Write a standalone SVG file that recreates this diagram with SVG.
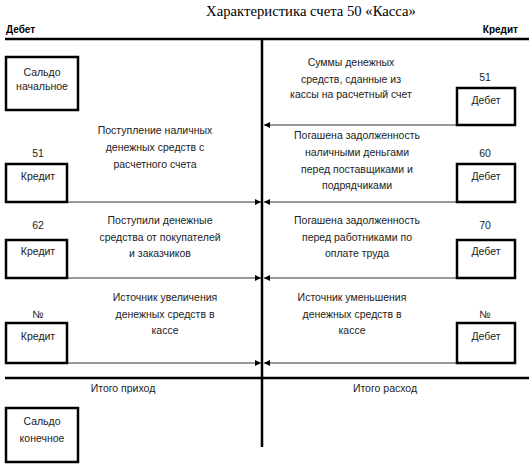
<svg xmlns="http://www.w3.org/2000/svg" width="531" height="467" viewBox="0 0 531 467">
<defs>
<marker id="ah" viewBox="0 0 10 10" refX="10" refY="5" markerWidth="6" markerHeight="6" markerUnits="userSpaceOnUse" orient="auto">
<path d="M0,0 L10,5 L0,10 z" fill="#000"/>
</marker>
<style>
text{font-family:"Liberation Sans",Arial,sans-serif;font-size:10.5px;fill:#222;text-anchor:middle}
.title{font-family:"Liberation Serif","Times New Roman",serif;font-size:14.7px;fill:#000}
.hd{font-weight:bold;font-size:10px;fill:#000}
.box{fill:#fff;stroke:#000;stroke-width:2.5}
.main{stroke:#000;stroke-width:2.5;fill:none}
.conn{stroke:#333;stroke-width:1;fill:none;marker-end:url(#ah)}
</style>
</defs>
<rect width="531" height="467" fill="#fff"/>
<text class="title" x="311" y="16">Характеристика счета 50 «Касса»</text>
<text class="hd" x="6" y="33" style="text-anchor:start">Дебет</text>
<text class="hd" x="518" y="33" style="text-anchor:end">Кредит</text>

<g id="axes">
<line class="main" x1="5" y1="39" x2="529" y2="39"/>
<line class="main" x1="262" y1="39" x2="262" y2="447"/>
<line class="main" x1="5" y1="378" x2="529" y2="378"/>
</g>

<g id="connectors">
<line class="conn" x1="456" y1="125" x2="264" y2="125"/>
<line class="conn" x1="67" y1="202" x2="261" y2="202"/>
<line class="conn" x1="456" y1="202" x2="264" y2="202"/>
<line class="conn" x1="67" y1="278" x2="261" y2="278"/>
<line class="conn" x1="456" y1="278" x2="264" y2="278"/>
<line class="conn" x1="67" y1="363" x2="261" y2="363"/>
<line class="conn" x1="456" y1="363" x2="264" y2="363"/>
</g>

<g id="saldo-start">
<rect class="box" x="6" y="57" width="72" height="53"/>
<text x="42" y="76">Сальдо</text>
<text x="42" y="90">начальное</text>
</g>

<g id="desc-r1">
<text x="351" y="66">Суммы денежных</text>
<text x="351" y="83">средств, сданные из</text>
<text x="351" y="98">кассы на расчетный счет</text>
</g>
<g id="debet-51">
<text x="485" y="81">51</text>
<rect class="box" x="457" y="88" width="58" height="37"/>
<text x="486" y="104">Дебет</text>
</g>

<g id="desc-l1">
<text x="155" y="134">Поступление наличных</text>
<text x="155" y="151">денежных средств с</text>
<text x="155" y="168">расчетного счета</text>
</g>
<g id="kredit-51">
<text x="38" y="157">51</text>
<rect class="box" x="6" y="164" width="61" height="38"/>
<text x="38" y="180">Кредит</text>
</g>

<g id="desc-r2">
<text x="357" y="139">Погашена задолженность</text>
<text x="357" y="156">наличными деньгами</text>
<text x="357" y="173">перед поставщиками и</text>
<text x="357" y="189">подрядчиками</text>
</g>
<g id="debet-60">
<text x="485" y="157">60</text>
<rect class="box" x="457" y="164" width="58" height="38"/>
<text x="486" y="180">Дебет</text>
</g>

<g id="desc-l2">
<text x="160" y="224">Поступили денежные</text>
<text x="160" y="241">средства от покупателей</text>
<text x="160" y="257">и заказчиков</text>
</g>
<g id="kredit-62">
<text x="38" y="229">62</text>
<rect class="box" x="6" y="240" width="61" height="38"/>
<text x="38" y="255">Кредит</text>
</g>

<g id="desc-r3">
<text x="357" y="224">Погашена задолженность</text>
<text x="357" y="241">перед работниками по</text>
<text x="357" y="257">оплате труда</text>
</g>
<g id="debet-70">
<text x="485" y="229">70</text>
<rect class="box" x="457" y="240" width="58" height="38"/>
<text x="486" y="255">Дебет</text>
</g>

<g id="desc-l3">
<text x="165" y="301">Источник увеличения</text>
<text x="165" y="318">денежных средств в</text>
<text x="165" y="334">кассе</text>
</g>
<g id="kredit-n">
<text x="38" y="318">№</text>
<rect class="box" x="6" y="323" width="61" height="40"/>
<text x="38" y="340">Кредит</text>
</g>

<g id="desc-r4">
<text x="352" y="301">Источник уменьшения</text>
<text x="352" y="318">денежных средств в</text>
<text x="352" y="334">кассе</text>
</g>
<g id="debet-n">
<text x="485" y="318">№</text>
<rect class="box" x="457" y="323" width="58" height="40"/>
<text x="486" y="340">Дебет</text>
</g>

<g id="totals">
<text x="123" y="392">Итого приход</text>
<text x="385" y="392">Итого расход</text>
</g>

<g id="saldo-end">
<rect class="box" x="6" y="408" width="72" height="54"/>
<text x="42" y="425">Сальдо</text>
<text x="42" y="442">конечное</text>
</g>
</svg>
